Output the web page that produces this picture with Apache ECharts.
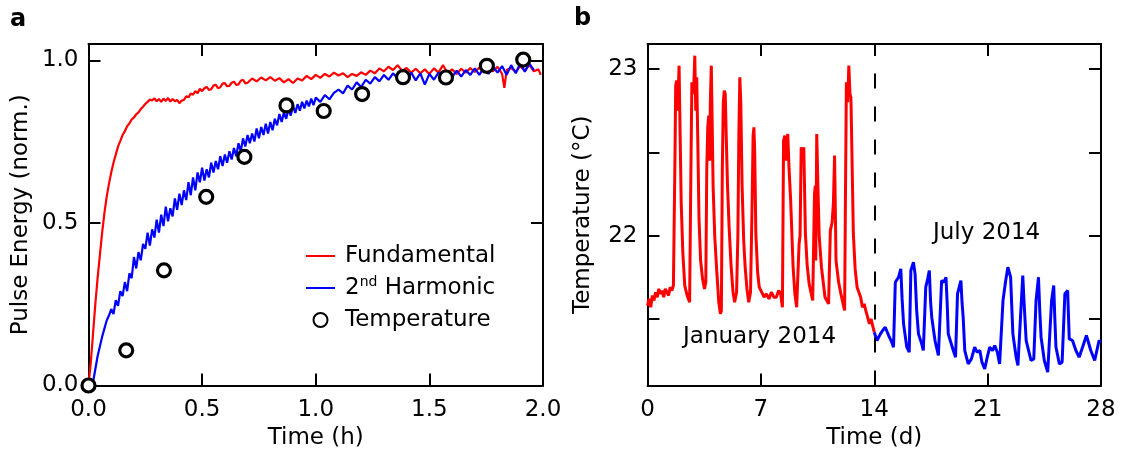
<!DOCTYPE html>
<html>
<head>
<meta charset="utf-8">
<script src="https://cdn.jsdelivr.net/npm/echarts@6/dist/echarts.min.js"></script>
<style>
html,body{margin:0;padding:0;background:#fff;}
#chart{width:1121px;height:452px;}
</style>
</head>
<body>
<div id="chart"></div>
<script>
// ---------- Panel a data: time (h), normalised pulse energy ----------
const fundamental = [
[0,0],[0.01,0.07],[0.02,0.16],[0.03,0.25],[0.04,0.33],[0.05,0.40],[0.06,0.47],[0.07,0.53],[0.08,0.58],[0.09,0.62],
[0.10,0.655],[0.11,0.685],[0.12,0.71],[0.13,0.735],[0.14,0.752],[0.15,0.77],[0.16,0.782],[0.17,0.797],[0.18,0.806],[0.19,0.818],
[0.20,0.824],[0.21,0.834],[0.22,0.84],[0.23,0.85],[0.24,0.857],[0.25,0.866],[0.26,0.872],[0.27,0.879],[0.28,0.876],[0.29,0.883],
[0.30,0.874],[0.31,0.881],[0.32,0.872],[0.33,0.882],[0.34,0.875],[0.35,0.884],[0.36,0.873],[0.37,0.881],[0.38,0.874],[0.39,0.878],
[0.40,0.868],[0.41,0.876],[0.42,0.878],[0.43,0.889],[0.44,0.886],[0.45,0.898],[0.46,0.894],[0.47,0.905],[0.48,0.899],[0.49,0.912],
[0.50,0.905],[0.51,0.914],[0.52,0.918],[0.53,0.909],[0.54,0.911],[0.55,0.922],[0.56,0.925],[0.57,0.914],[0.58,0.917],[0.59,0.928],
[0.60,0.93],[0.61,0.92],[0.62,0.921],[0.63,0.931],[0.64,0.934],[0.65,0.924],[0.66,0.926],[0.67,0.937],[0.68,0.94],[0.69,0.929],
[0.70,0.931],[0.72,0.944],[0.74,0.935],[0.76,0.947],[0.78,0.938],[0.80,0.948],[0.82,0.937],[0.84,0.945],[0.86,0.932],[0.88,0.942],
[0.90,0.93],[0.92,0.944],[0.94,0.938],[0.96,0.952],[0.98,0.942],[1.00,0.955],[1.02,0.946],[1.04,0.958],[1.06,0.95],[1.08,0.962],
[1.10,0.953],[1.12,0.96],[1.14,0.948],[1.16,0.958],[1.18,0.952],[1.20,0.963],[1.22,0.955],[1.24,0.968],[1.26,0.96],[1.28,0.975],
[1.30,0.966],[1.32,0.98],[1.34,0.97],[1.36,0.985],[1.38,0.968],[1.40,0.976],[1.42,0.962],[1.44,0.974],[1.46,0.96],[1.48,0.972],
[1.50,0.958],[1.52,0.975],[1.54,0.962],[1.56,0.985],[1.58,0.96],[1.60,0.972],[1.62,0.958],[1.64,0.974],[1.66,0.962],[1.68,0.976],
[1.70,0.964],[1.72,0.978],[1.74,0.962],[1.76,0.977],[1.78,0.966],[1.80,0.98],[1.82,0.958],[1.83,0.915],[1.84,0.97],[1.86,0.976],
[1.88,0.965],[1.90,0.982],[1.92,0.968],[1.94,0.985],[1.96,0.966],[1.98,0.972],[1.99,0.955]
];
const harmonic = [
[0,0],[0.01,0.0],[0.02,0.01],[0.03,0.05],[0.04,0.09],[0.05,0.12],[0.06,0.15],[0.07,0.175],[0.08,0.2],[0.09,0.215],
[0.10,0.235],[0.11,0.22],[0.12,0.262],[0.13,0.245],[0.14,0.29],[0.15,0.275],[0.16,0.318],[0.17,0.29],[0.18,0.345],[0.19,0.33],
[0.20,0.395],[0.21,0.36],[0.22,0.41],[0.23,0.385],[0.24,0.435],[0.25,0.42],[0.26,0.47],[0.27,0.43],[0.28,0.48],[0.29,0.455],
[0.30,0.51],[0.31,0.47],[0.32,0.525],[0.33,0.49],[0.34,0.55],[0.35,0.505],[0.36,0.545],[0.37,0.52],[0.38,0.575],[0.39,0.54],
[0.40,0.59],[0.41,0.555],[0.42,0.6],[0.43,0.57],[0.44,0.625],[0.45,0.585],[0.46,0.64],[0.47,0.6],[0.48,0.655],[0.49,0.625],
[0.50,0.67],[0.51,0.63],[0.52,0.665],[0.53,0.64],[0.54,0.685],[0.55,0.655],[0.56,0.69],[0.57,0.665],[0.58,0.705],[0.59,0.675],
[0.60,0.71],[0.61,0.685],[0.62,0.72],[0.63,0.695],[0.64,0.73],[0.65,0.705],[0.66,0.745],[0.67,0.72],[0.68,0.76],[0.69,0.735],
[0.70,0.77],[0.71,0.745],[0.72,0.775],[0.73,0.75],[0.74,0.79],[0.75,0.76],[0.76,0.795],[0.77,0.77],[0.78,0.805],[0.79,0.775],
[0.80,0.81],[0.81,0.785],[0.82,0.82],[0.83,0.8],[0.84,0.835],[0.85,0.81],[0.86,0.84],[0.87,0.82],[0.88,0.85],[0.89,0.83],
[0.90,0.86],[0.91,0.838],[0.92,0.865],[0.93,0.845],[0.94,0.872],[0.95,0.852],[0.96,0.876],[0.97,0.858],[0.98,0.882],[0.99,0.862],
[1.00,0.885],[1.02,0.872],[1.04,0.893],[1.06,0.88],[1.08,0.9],[1.10,0.91],[1.12,0.898],[1.14,0.922],[1.16,0.91],[1.18,0.932],
[1.20,0.918],[1.22,0.94],[1.24,0.928],[1.26,0.948],[1.28,0.935],[1.30,0.955],[1.32,0.94],[1.34,0.96],[1.36,0.945],[1.38,0.965],
[1.40,0.942],[1.42,0.962],[1.44,0.938],[1.46,0.96],[1.48,0.925],[1.50,0.958],[1.52,0.94],[1.54,0.962],[1.56,0.945],[1.58,0.965],
[1.60,0.948],[1.62,0.968],[1.64,0.95],[1.66,0.97],[1.68,0.955],[1.70,0.975],[1.72,0.955],[1.74,0.978],[1.76,0.958],[1.78,0.98],
[1.80,0.962],[1.82,0.982],[1.84,0.955],[1.86,0.985],[1.88,0.96],[1.90,0.99],[1.92,0.965],[1.94,0.99],[1.96,0.97]
];
const temperatureA = [
[0,0],[0.166,0.108],[0.332,0.354],[0.518,0.58],[0.686,0.703],[0.871,0.861],
[1.035,0.844],[1.204,0.896],[1.384,0.948],[1.573,0.947],[1.753,0.983],[1.913,1.002]
];
const xTicksA = [0, 0.5, 1.0, 1.5, 2.0];
const yLabelsA = [0, 0.5, 1.0];
const yTicksA = [0.5, 1.0];

// ---------- Panel b data: time (d), temperature (°C) ----------
const january = [
[0.00,21.58],[0.10,21.62],[0.20,21.57],[0.30,21.64],[0.40,21.61],[0.50,21.66],[0.60,21.63],[0.70,21.68],[0.80,21.65],[0.90,21.67],
[1.00,21.63],[1.10,21.68],[1.20,21.66],[1.30,21.64],[1.40,21.69],[1.50,21.67],[1.60,21.70],[1.66,21.70],
[1.70,22.5],[1.74,22.9],[1.80,22.93],[1.86,22.75],[1.95,23.02],[2.00,22.7],[2.08,22.2],[2.18,21.9],[2.30,21.7],[2.45,21.64],[2.60,21.6],
[2.68,22.4],[2.74,22.92],[2.80,22.85],[2.86,22.9],[2.92,23.08],[2.98,22.75],[3.04,22.95],[3.10,22.6],[3.18,22.1],[3.28,21.85],[3.40,21.74],[3.52,21.68],[3.60,21.72],
[3.66,22.4],[3.72,22.65],[3.78,22.72],[3.84,22.45],[3.88,22.8],[3.94,23.02],[3.99,22.7],[4.05,22.3],[4.15,22.0],[4.28,21.78],[4.40,21.6],[4.50,21.53],[4.56,21.55],
[4.62,22.4],[4.68,22.8],[4.74,22.87],[4.80,22.85],[4.86,22.6],[4.94,22.3],[5.04,22.05],[5.16,21.82],[5.28,21.66],[5.38,21.6],[5.50,21.66],
[5.58,22.0],[5.64,22.6],[5.70,22.95],[5.76,22.8],[5.84,22.3],[5.94,21.97],[6.03,21.81],[6.14,21.68],[6.25,21.6],[6.36,21.66],
[6.46,22.2],[6.52,22.6],[6.57,22.65],[6.62,22.5],[6.69,22.01],[6.80,21.78],[6.90,21.69],[7.05,21.66],[7.20,21.63],[7.34,21.65],
[7.50,21.62],[7.65,21.66],[7.80,21.63],[7.95,21.63],[8.10,21.67],[8.22,21.65],[8.33,21.57],
[8.40,22.57],[8.48,22.6],[8.55,22.45],[8.66,22.61],[8.74,22.4],[8.84,22.21],[8.99,21.81],[9.10,21.65],[9.21,21.57],
[9.30,21.8],[9.36,21.95],[9.42,22.0],[9.49,22.53],[9.57,22.5],[9.65,22.53],[9.75,22.01],[9.86,21.82],[9.98,21.71],[10.2,21.61],
[10.31,22.25],[10.36,22.3],[10.39,21.85],[10.45,22.61],[10.52,22.3],[10.60,22.0],[10.74,21.81],[10.96,21.63],[11.18,21.59],
[11.29,22.03],[11.40,22.08],[11.48,22.2],[11.55,22.48],[11.64,21.85],[11.80,21.72],[11.94,21.65],[12.17,21.55],
[12.22,22.2],[12.28,22.92],[12.36,22.8],[12.43,23.02],[12.50,22.85],[12.56,22.83],[12.71,22.01],[12.82,21.8],[12.94,21.69],
[13.05,21.66],[13.16,21.63],[13.27,21.57],[13.38,21.59],[13.48,21.55],[13.59,21.51],[13.70,21.47],[13.80,21.5],[13.87,21.49],[14.0,21.42]
];
const july = [
[14.0,21.42],[14.17,21.37],[14.38,21.41],[14.52,21.43],[14.68,21.45],[14.89,21.40],[15.08,21.36],[15.19,21.33],
[15.3,21.72],[15.42,21.73],[15.5,21.75],[15.64,21.80],[15.72,21.62],[15.81,21.47],[16.01,21.33],[16.16,21.30],
[16.26,21.79],[16.42,21.84],[16.52,21.77],[16.62,21.55],[16.73,21.41],[16.93,21.35],[17.03,21.31],
[17.18,21.69],[17.30,21.74],[17.40,21.79],[17.48,21.6],[17.55,21.51],[17.75,21.37],[17.96,21.28],
[18.16,21.73],[18.30,21.72],[18.43,21.75],[18.50,21.6],[18.57,21.41],[18.88,21.31],[19.02,21.27],
[19.14,21.65],[19.25,21.64],[19.35,21.73],[19.42,21.6],[19.49,21.51],[19.59,21.31],[19.8,21.23],
[20.0,21.26],[20.2,21.33],[20.35,21.30],[20.52,21.31],[20.65,21.24],[20.82,21.20],[21.0,21.28],[21.13,21.33],[21.30,21.31],[21.44,21.34],[21.60,21.30],[21.74,21.23],
[21.95,21.61],[22.1,21.72],[22.25,21.81],[22.42,21.75],[22.50,21.55],[22.56,21.41],[22.76,21.27],[22.87,21.22],
[23.03,21.51],[23.17,21.76],[23.25,21.6],[23.38,21.37],[23.68,21.25],[23.85,21.26],
[23.99,21.61],[24.14,21.75],[24.22,21.55],[24.3,21.39],[24.5,21.25],[24.71,21.18],
[24.95,21.61],[25.08,21.70],[25.15,21.5],[25.22,21.33],[25.43,21.23],[25.6,21.24],
[25.77,21.65],[25.94,21.67],[26.04,21.38],[26.24,21.37],[26.45,21.31],[26.65,21.27],[26.86,21.33],[27.1,21.40],[27.37,21.31],[27.61,21.25],[27.88,21.37],[28.0,21.36]
];
const dividerDay = 14;
const xTicksB = [0, 7, 14, 21, 28];
const yLabelsB = [22, 23];
const yTicksB = [21.5, 22, 22.5, 23];

// ---------- Styling ----------
const FONT = 'DejaVu Sans';
const BLACK = '#000000';
const RED = '#ff0000';
const BLUE = '#0000ff';

function frameAxis(gridIndex, pos, min, max, extra) {
  return Object.assign({
    gridIndex: gridIndex, position: pos, type: 'value', min: min, max: max,
    axisLine: { show: true, onZero: false, lineStyle: { color: BLACK, width: 2 } },
    axisTick: { show: true, inside: true, length: 12, lineStyle: { color: BLACK, width: 2 } },
    axisLabel: { show: false },
    splitLine: { show: false }
  }, extra || {});
}
const labelStyle = { color: BLACK, fontFamily: FONT, fontSize: 23 };
const nameStyle = { color: BLACK, fontFamily: FONT, fontSize: 23 };

const gridA = { left: 88.5, top: 44, width: 454.5, height: 341.5, containLabel: false, outerBoundsMode: 'none' };
const gridB = { left: 647.5, top: 44, width: 453.5, height: 341.5, containLabel: false, outerBoundsMode: 'none' };

const option = {
  animation: false,
  backgroundColor: '#ffffff',
  grid: [gridA, gridB],
  xAxis: [
    frameAxis(0, 'bottom', 0, 2, {
      interval: 0.5,
      axisLabel: Object.assign({ show: true, margin: 13, formatter: v => v.toFixed(1), customValues: xTicksA }, labelStyle),
      axisTick: { show: true, inside: true, length: 12, customValues: xTicksA, lineStyle: { color: BLACK, width: 2 } },
      name: 'Time (h)', nameLocation: 'middle', nameGap: 41, nameTextStyle: nameStyle
    }),
    frameAxis(0, 'top', 0, 2, { interval: 0.5 }),
    frameAxis(1, 'bottom', 0, 28, {
      interval: 7,
      axisLabel: Object.assign({ show: true, margin: 13, customValues: xTicksB }, labelStyle),
      axisTick: { show: true, inside: true, length: 12, customValues: xTicksB, lineStyle: { color: BLACK, width: 2 } },
      name: 'Time (d)', nameLocation: 'middle', nameGap: 41, nameTextStyle: nameStyle
    }),
    frameAxis(1, 'top', 0, 28, { interval: 7 })
  ],
  yAxis: [
    frameAxis(0, 'left', 0, 1.05, {
      axisLabel: Object.assign({ show: true, margin: 10, formatter: v => v.toFixed(1), customValues: yLabelsA }, labelStyle),
      axisTick: { show: true, inside: true, length: 12, customValues: yTicksA, lineStyle: { color: BLACK, width: 2 } },
      name: 'Pulse Energy (norm.)', nameLocation: 'middle', nameGap: 56, nameTextStyle: nameStyle
    }),
    frameAxis(0, 'right', 0, 1.05, {
      axisTick: { show: true, inside: true, length: 12, customValues: yTicksA, lineStyle: { color: BLACK, width: 2 } }
    }),
    frameAxis(1, 'left', 21.1, 23.15, {
      axisLabel: Object.assign({ show: true, margin: 10, customValues: yLabelsB }, labelStyle),
      axisTick: { show: true, inside: true, length: 12, customValues: yTicksB, lineStyle: { color: BLACK, width: 2 } },
      name: 'Temperature (°C)', nameLocation: 'middle', nameGap: 53, nameTextStyle: nameStyle
    }),
    frameAxis(1, 'right', 21.1, 23.15, {
      axisTick: { show: true, inside: true, length: 12, customValues: yTicksB, lineStyle: { color: BLACK, width: 2 } }
    })
  ],
  legend: {
    left: 305, top: 243, padding: 0, orient: 'vertical', itemWidth: 29, itemHeight: 14, itemGap: 6,
    data: [
      { name: 'Fundamental', itemStyle: { opacity: 0 } },
      { name: '2nd Harmonic', itemStyle: { opacity: 0 } },
      { name: 'Temperature' }
    ],
    formatter: function (name) {
      return name === '2nd Harmonic' ? '2{sup|nd} Harmonic' : name;
    },
    textStyle: {
      color: BLACK, fontFamily: FONT, fontSize: 23, lineHeight: 26, padding: [0, 0, 0, 5],
      rich: { sup: { fontFamily: FONT, fontSize: 14, lineHeight: 14, verticalAlign: 'top', color: BLACK } }
    }
  },
  series: [
    { name: 'Fundamental', type: 'line', xAxisIndex: 0, yAxisIndex: 0, data: fundamental,
      symbol: 'none', lineStyle: { color: RED, width: 2.2 }, itemStyle: { color: RED } },
    { name: '2nd Harmonic', type: 'line', xAxisIndex: 0, yAxisIndex: 0, data: harmonic,
      symbol: 'none', lineStyle: { color: BLUE, width: 2.2 }, itemStyle: { color: BLUE } },
    { name: 'Temperature', type: 'scatter', xAxisIndex: 0, yAxisIndex: 0, data: temperatureA,
      symbol: 'circle', symbolSize: 13, clip: false, z: 5,
      itemStyle: { color: '#ffffff', borderColor: BLACK, borderWidth: 3.2, opacity: 1 } },
    { name: 'January 2014', type: 'line', xAxisIndex: 2, yAxisIndex: 2, data: january,
      symbol: 'none', lineStyle: { color: RED, width: 3 }, itemStyle: { color: RED },
      markLine: { silent: true, symbol: ['none', 'none'], label: { show: false },
        lineStyle: { color: BLACK, type: [15, 18], width: 2 },
        data: [{ xAxis: dividerDay }] } },
    { name: 'July 2014', type: 'line', xAxisIndex: 2, yAxisIndex: 2, data: july,
      symbol: 'none', lineStyle: { color: BLUE, width: 3 }, itemStyle: { color: BLUE } }
  ],
  graphic: [
    { type: 'text', left: 10, top: 8, style: { text: 'a', fontFamily: FONT, fontWeight: 'bold', fontSize: 24, fill: BLACK } },
    { type: 'text', left: 574, top: 7, style: { text: 'b', fontFamily: FONT, fontWeight: 'bold', fontSize: 24, fill: BLACK } },
    { type: 'text', x: 683, y: 337, style: { text: 'January 2014', fontFamily: FONT, fontSize: 23, fill: BLACK, verticalAlign: 'middle' } },
    { type: 'text', x: 933, y: 233, style: { text: 'July 2014', fontFamily: FONT, fontSize: 23, fill: BLACK, verticalAlign: 'middle' } }
  ]
};

const chart = echarts.init(document.getElementById('chart'));
chart.setOption(option);
</script>
</body>
</html>
